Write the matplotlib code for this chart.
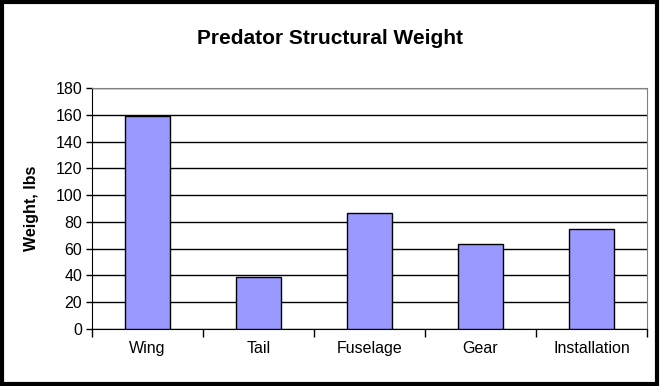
import matplotlib.pyplot as plt
from matplotlib.patches import Rectangle
import numpy as np

plt.rcParams['font.family'] = ['Liberation Sans', 'DejaVu Sans']

components = ['Wing', 'Tail', 'Fuselage', 'Gear', 'Installation']
weights = [159, 39, 86.5, 63.5, 74.5]
yticks = [0, 20, 40, 60, 80, 100, 120, 140, 160, 180]

fig = plt.figure(figsize=(6.6, 3.86), dpi=100)
ax = fig.add_axes([0.1394, 0.1477, 0.8409, 0.6243])

x = np.arange(len(components))
ax.bar(x, weights, width=0.41, color='#9999ff', edgecolor='black',
       linewidth=1.0, zorder=3)

ax.set_ylim(0, 180)
ax.set_xlim(-0.5, len(components) - 0.5)
ax.set_yticks(yticks)
ax.yaxis.grid(True, color='black', linewidth=1.0, zorder=1)
ax.set_axisbelow(True)

# category labels centred, tick marks at category boundaries
ax.set_xticks(np.arange(-0.5, len(components)), minor=False)
ax.set_xticklabels([])
ax.set_xticks(x, minor=True)
ax.set_xticklabels(components, minor=True, fontsize=11.5)
ax.tick_params(axis='x', which='minor', length=0, pad=9)
ax.tick_params(axis='x', which='major', length=6, direction='out', width=1)
ax.tick_params(axis='y', length=4, direction='out', width=1, labelsize=11.5, pad=3)

for side in ['top', 'right']:
    ax.spines[side].set_color('#808080')
for side in ['left', 'bottom']:
    ax.spines[side].set_color('black')

ax.set_ylabel('Weight, lbs', fontsize=11.5, fontweight='bold', labelpad=12)

fig.text(0.5, 0.90, 'Predator Structural Weight', ha='center', va='center',
         fontsize=15, fontweight='bold')

fig.patches.append(Rectangle((0.003, 0.004), 0.993, 0.99, transform=fig.transFigure,
                             fill=False, edgecolor='black', linewidth=3))

fig.savefig('out.png', dpi=100)
